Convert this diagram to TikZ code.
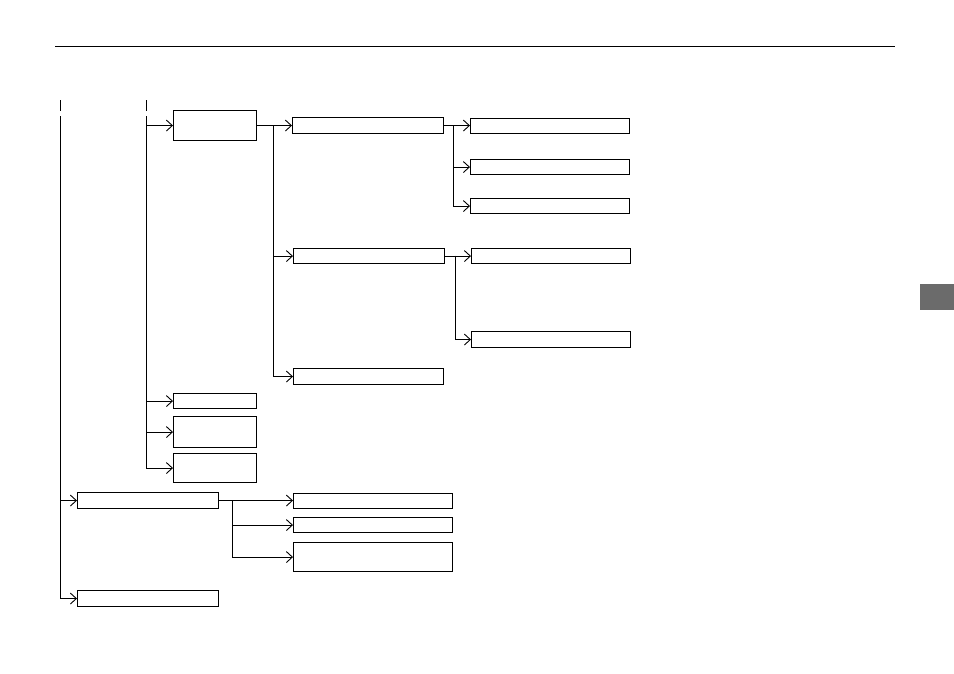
\documentclass[tikz,border=0pt]{standalone}
\usetikzlibrary{arrows.meta, positioning}

\begin{document}
\begin{tikzpicture}[
        x=1pt, y=-1pt,
        >={Straight Barb[length=6pt, width=11pt]},
        line width=0.9pt,
        box/.style={rectangle, draw, line width=1.1pt, inner sep=0pt, anchor=north west},
        menubox/.style={box, minimum width=83pt},
        itembox/.style={box, minimum width=151pt},
        leafbox/.style={box, minimum width=159pt},
        rootbox/.style={box, minimum width=141pt, minimum height=16pt}
    ]
        \useasboundingbox (0,0) rectangle (954,673);

        % Page rule and side tab
        \draw (55,46) -- (895,46);
        \fill[black!58] (920,284) rectangle (954,310);

        % Column ticks
        \draw (60,100) -- (60,111);
        \draw (146,100) -- (146,111);

        % Nodes
        \node[menubox, minimum height=30pt] (menuA) at (173,110) {};
        \node[menubox, minimum height=15pt] (menuB) at (173,393) {};
        \node[menubox, minimum height=31pt] (menuC) at (173,416) {};
        \node[menubox, minimum height=29pt] (menuD) at (173,453) {};

        \node[itembox, minimum height=16pt] (itemA) at (292,117) {};
        \node[itembox, minimum height=15pt] (itemB) at (293,248) {};
        \node[itembox, minimum height=16pt, minimum width=150pt] (itemC) at (293,368) {};

        \node[leafbox, minimum height=15pt] (leafA) at (470,117.5) {};
        \node[leafbox, minimum height=15pt] (leafB) at (470,159) {};
        \node[leafbox, minimum height=15pt] (leafC) at (470,198) {};
        \node[leafbox, minimum height=15pt] (leafD) at (471,248) {};
        \node[leafbox, minimum height=16pt] (leafE) at (471,331) {};

        \node[rootbox] (rootA) at (77,492) {};
        \node[rootbox] (rootB) at (77,590) {};

        \node[leafbox, minimum height=15pt] (optA) at (293,492.5) {};
        \node[leafbox, minimum height=15pt] (optB) at (293,517) {};
        \node[leafbox, minimum height=29pt] (optC) at (293,542) {};

        % Junctions
        \coordinate (jRoot) at (60,116);
        \coordinate (jMenu) at (146,116);
        \coordinate (jItem) at (273,125);
        \coordinate (jLeafA) at (453,125);
        \coordinate (jLeafB) at (455,255.5);
        \coordinate (jOpt) at (232,500);

        % Arrows
        \draw[->] (jRoot) |- (rootA.west);
        \draw[->] (jRoot) |- (rootB.west);

        \draw[->] (jMenu) |- (menuA.west);
        \draw[->] (jMenu) |- (menuB.west);
        \draw[->] (jMenu) |- (menuC.west);
        \draw[->] (jMenu) |- (menuD.west);

        \draw[->] (menuA.east) -- (itemA.west);
        \draw[->] (jItem) |- (itemB.west);
        \draw[->] (jItem) |- (itemC.west);

        \draw[->] (itemA.east) -- (leafA.west);
        \draw[->] (jLeafA) |- (leafB.west);
        \draw[->] (jLeafA) |- (leafC.west);

        \draw[->] (itemB.east) -- (leafD.west);
        \draw[->] (jLeafB) |- (leafE.west);

        \draw[->] (rootA.east) -- (optA.west);
        \draw[->] (jOpt) |- (optB.west);
        \draw[->] (jOpt) |- (optC.west);

    \end{tikzpicture}
\end{document}
